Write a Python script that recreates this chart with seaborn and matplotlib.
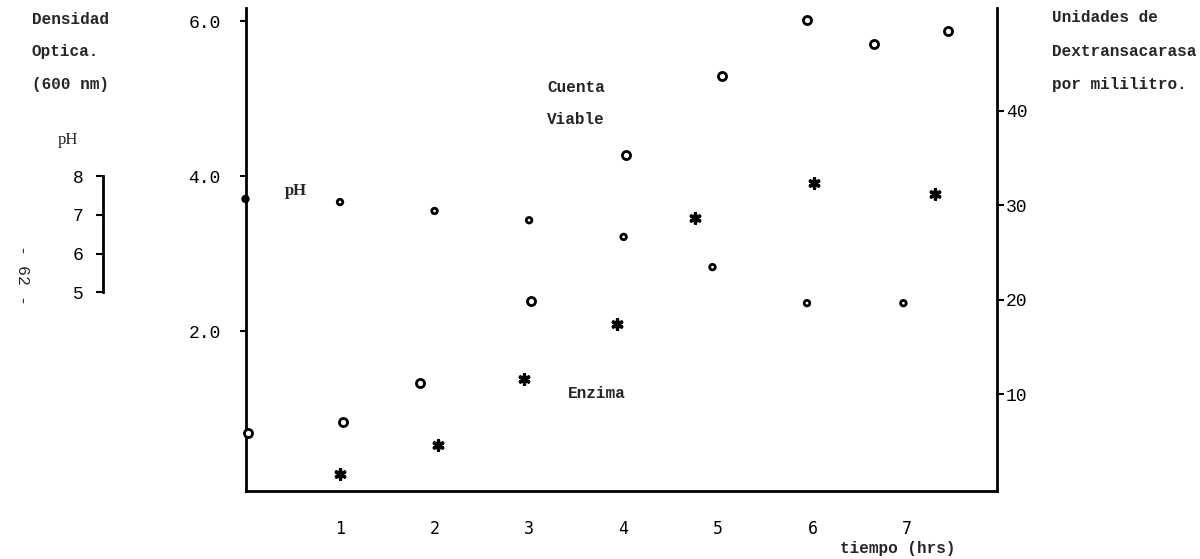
import matplotlib
matplotlib.use("Agg")
import matplotlib.pyplot as plt
import seaborn as sns
import pandas as pd

# ---- data ----
od_time = [0.03, 1.03, 1.85, 3.02, 4.03, 5.04, 5.94, 6.65, 7.43]
od_value = [0.68, 0.83, 1.33, 2.39, 4.27, 5.29, 6.01, 5.70, 5.87]
ph_time = [0.0, 1.0, 2.0, 3.0, 4.0, 4.94, 5.94, 6.96]
ph_value = [7.41, 7.33, 7.10, 6.86, 6.43, 5.65, 4.72, 4.72]
enz_time = [1.0, 2.04, 2.95, 3.93, 4.75, 6.01, 7.29]
enz_value = [1.6, 4.7, 11.6, 17.4, 28.6, 32.3, 31.2]

x_ticks = [1, 2, 3, 4, 5, 6, 7]
od_ticks = [2.0, 4.0, 6.0]
od_tick_labels = ["2.0", "4.0", "6.0"]
ph_ticks = [5, 6, 7, 8]
enz_ticks = [10, 20, 30, 40]

od_df = pd.DataFrame({"t": od_time, "v": od_value})
ph_df = pd.DataFrame({"t": ph_time, "v": ph_value})
enz_df = pd.DataFrame({"t": enz_time, "v": enz_value})

sns.set_style("white")
plt.rcParams["font.family"] = ["Liberation Mono", "DejaVu Sans Mono"]

W, H = 1200, 559
fig = plt.figure(figsize=(12, 5.59), dpi=100)

def px(x, y):
    return x / W, 1 - y / H

left, right, top, bottom = 245.5, 997, 8, 491
ax = fig.add_axes([left / W, 1 - bottom / H, (right - left) / W, (bottom - top) / H])
ax.set_xlim(0, 7.95)
ax.set_ylim(-0.065, 6.17)

ax2 = ax.twinx()
ax2.set_ylim(-0.21, 50.85)
ax3 = ax.twinx()
ax3.set_ylim(-0.13, 12.34)

# series
sns.scatterplot(data=od_df, x="t", y="v", ax=ax, marker="o", s=34,
                facecolor="white", edgecolor="black", linewidth=2.0, zorder=5,
                clip_on=False)
ph_face = ["black"] + ["white"] * (len(ph_time) - 1)
sns.scatterplot(data=ph_df, x="t", y="v", ax=ax3, marker="o", s=16,
                facecolor=ph_face, edgecolor="black", linewidth=2.0, zorder=5,
                clip_on=False)
sns.scatterplot(data=enz_df, x="t", y="v", ax=ax2, marker=(6, 2, 0), s=48,
                color="black", linewidth=2.4, zorder=5)

# spines
lw = 2.0
for a in (ax, ax2, ax3):
    for s in a.spines.values():
        s.set_visible(False)
        s.set_linewidth(lw)
        s.set_color("black")
ax.spines["left"].set_visible(True)
ax.spines["bottom"].set_visible(True)
ax2.spines["right"].set_visible(True)
ax3.spines["left"].set_visible(True)
ax3.spines["left"].set_position(("axes", (103 - left) / (right - left)))
ax3.spines["left"].set_bounds(5, 8)

# ticks
ax.set_xticks(x_ticks)
ax.set_xticklabels([str(v) for v in x_ticks], fontsize=12, family=["DejaVu Sans Mono"])
ax.set_yticks(od_ticks)
ax.set_yticklabels(od_tick_labels, fontsize=13)
ax.tick_params(axis="x", direction="out", length=4, width=1.5, pad=17, colors="black")
ax.tick_params(axis="y", direction="out", length=4, width=1.5, pad=14, colors="black")

ax2.set_yticks(enz_ticks)
ax2.set_yticklabels([str(v) for v in enz_ticks], fontsize=13)
ax2.tick_params(axis="y", direction="out", length=5, width=1.5, pad=1.5, colors="black")

ax3.yaxis.tick_left()
ax3.set_yticks(ph_ticks)
ax3.set_yticklabels([str(v) for v in ph_ticks], fontsize=13)
ax3.tick_params(axis="y", direction="out", length=5, width=1.5, pad=9, colors="black")

for a in (ax, ax2, ax3):
    a.set_xlabel("")
    a.set_ylabel("")
    a.grid(False)
    a.patch.set_alpha(0)

# labels
bold = dict(fontsize=11.5, fontweight="bold", va="center", ha="left")
for txt, y in (("Densidad", 19), ("Optica.", 52), ("(600 nm)", 85)):
    fig.text(*px(32, y), txt, **bold)
fig.text(*px(58, 140), "pH", fontsize=12, va="center", ha="left",
         family=["Liberation Serif", "DejaVu Serif"])
for txt, y in (("Unidades de", 18), ("Dextransacarasa", 51), ("por mililitro.", 84)):
    fig.text(*px(1052, y), txt, **bold)
fig.text(*px(547, 88), "Cuenta", **bold)
fig.text(*px(547, 119), "Viable", **bold)
fig.text(*px(285, 191), "pH", fontsize=12, fontweight="bold", va="center", ha="left",
         family=["Liberation Serif", "DejaVu Serif"])
fig.text(*px(568, 393), "Enzima", **bold)
fig.text(*px(898, 548), "tiempo (hrs)", fontsize=11.5, fontweight="bold", va="center", ha="center")
fig.text(*px(22, 275), "- 62 -", fontsize=12, rotation=-90, va="center", ha="center")

fig.savefig("out.png", dpi=100)
